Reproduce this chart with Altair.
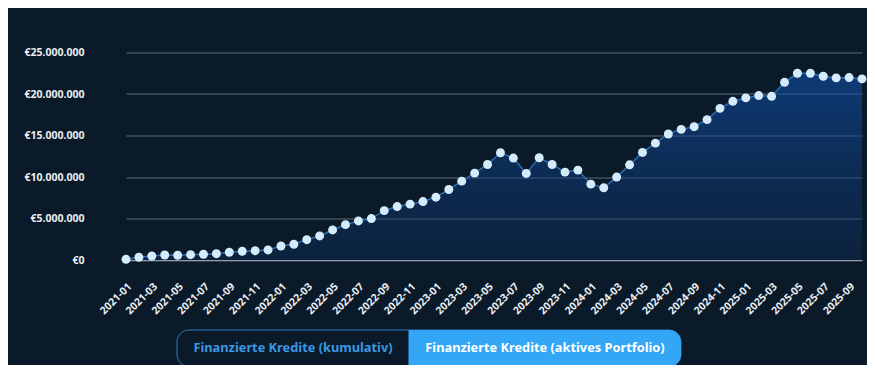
import altair as alt
import pandas as pd

# ---- data (values in million EUR) ----
months = [f"{y}-{m:02d}" for y in range(2021, 2026) for m in range(1, 13)][:58]
values_m = [
    0.08, 0.33, 0.48, 0.60, 0.57, 0.64, 0.69, 0.76, 0.93, 1.05, 1.12, 1.21,
    1.69, 1.90, 2.45, 2.90, 3.62, 4.26, 4.71, 4.99, 5.95, 6.44, 6.73, 7.04,
    7.57, 8.49, 9.50, 10.47, 11.51, 12.92, 12.28, 10.43, 12.32, 11.51, 10.59, 10.83,
    9.14, 8.70, 9.99, 11.47, 12.96, 14.08, 15.18, 15.74, 16.06, 16.91, 18.27, 19.12,
    19.53, 19.81, 19.72, 21.41, 22.50, 22.50, 22.14, 21.94, 21.98, 21.82,
]
x_tick_labels = months[0:57:2]
y_ticks = [0, 5_000_000, 10_000_000, 15_000_000, 20_000_000, 25_000_000]
button_labels = ["Finanzierte Kredite (kumulativ)", "Finanzierte Kredite (aktives Portfolio)"]

df = pd.DataFrame({"month": months, "value": [v * 1_000_000 for v in values_m]})

W, H = 742, 207.5
BG = "#0b1a29"

x_enc = alt.X(
    "month:O",
    sort=months,
    scale=alt.Scale(type="point", range=[6, W], padding=0),
    axis=alt.Axis(
        values=x_tick_labels,
        labelAngle=-45,
        labelFont="Open Sans",
        labelFontSize=10.5,
        labelFontWeight="bold",
        labelColor="#e8eef4",
        ticks=False,
        domain=True,
        domainColor="#8d9cab",
        grid=False,
        title=None,
        labelPadding=21,
    ),
)
y_enc = alt.Y(
    "value:Q",
    scale=alt.Scale(domain=[0, 25_000_000], nice=False),
    axis=alt.Axis(
        values=y_ticks,
        labelExpr="'€' + replace(format(datum.value, ','), regexp(',', 'g'), '.')",
        labelFont="Open Sans",
        labelFontSize=10.5,
        labelFontWeight="bold",
        labelColor="#e8eef4",
        labelPadding=36,
        ticks=False,
        domain=False,
        grid=True,
        gridColor="#5d6b79",
        gridWidth=1,
        title=None,
    ),
)

base = alt.Chart(df)

gradient = alt.Gradient(
    gradient="linear",
    x1=1, x2=1, y1=1, y2=0,
    stops=[
        alt.GradientStop(offset=0, color="rgba(14,50,100,0.35)"),
        alt.GradientStop(offset=1, color="rgba(16,80,170,0.6)"),
    ],
)

area = base.mark_area(fill=gradient, interpolate="linear").encode(x=x_enc, y=y_enc)
line = base.mark_line(color="#2a6fb5", strokeWidth=1.5).encode(x=x_enc, y=y_enc)
points = base.mark_circle(size=80, color="#d3ebfb", opacity=1).encode(x=x_enc, y=y_enc)

# ---- toggle buttons below the chart ----
btn = alt.Chart(pd.DataFrame({"label": button_labels}))
outline = btn.transform_filter(alt.datum.label == button_labels[0]).mark_rect(
    fill=BG, stroke="#2f7dbf", strokeWidth=1, cornerRadius=12
).encode(x=alt.value(57), x2=alt.value(561), y=alt.value(277.5), y2=alt.value(314))
filled = btn.transform_filter(alt.datum.label == button_labels[1]).mark_rect(
    fill="#33a6f5", cornerRadiusTopRight=12, cornerRadiusBottomRight=12
).encode(x=alt.value(288.5), x2=alt.value(561), y=alt.value(277.5), y2=alt.value(314))
text_left = btn.transform_filter(alt.datum.label == button_labels[0]).mark_text(
    font="Noto Sans", fontSize=12.8, fontWeight="bold", color="#3a98e4",
    align="center", baseline="middle",
).encode(x=alt.value(173), y=alt.value(295.5), text="label:N")
text_right = btn.transform_filter(alt.datum.label == button_labels[1]).mark_text(
    font="Noto Sans", fontSize=12.8, fontWeight="bold", color="#ffffff",
    align="center", baseline="middle",
).encode(x=alt.value(425), y=alt.value(295.5), text="label:N")

chart = (
    alt.layer(area, line, points, outline, filled, text_left, text_right)
    .properties(
        width=W,
        height=H,
        autosize=alt.AutoSizeParams(type="none"),
        padding={"left": 112, "top": 44.5, "right": 5, "bottom": 105},
        background=BG,
    )
    .configure_view(stroke=None)
)

chart.save("out.html", embed_options={"renderer": "svg", "actions": False})
